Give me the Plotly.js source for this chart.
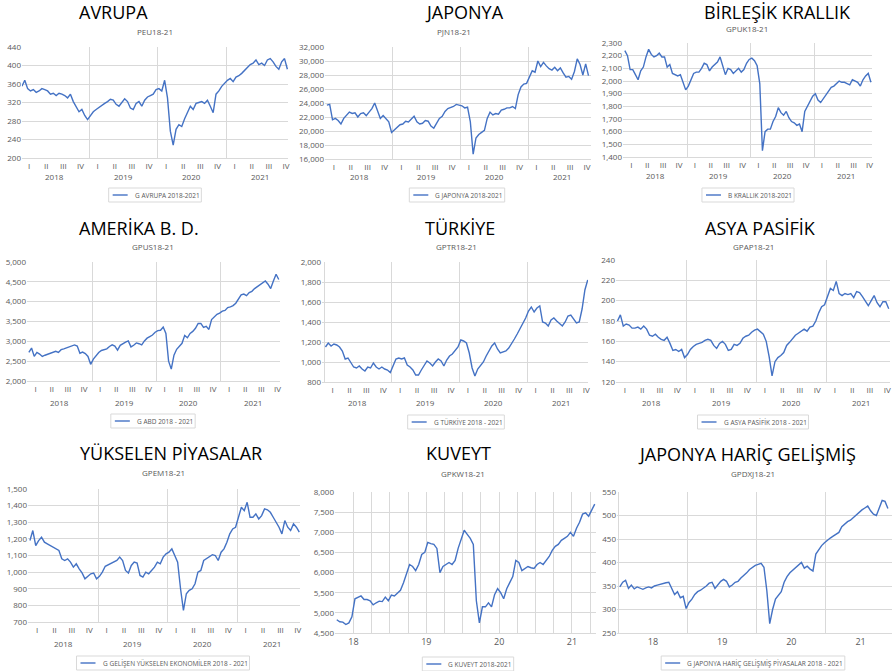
<!DOCTYPE html>
<html><head><meta charset="utf-8">
<script src="https://cdn.plot.ly/plotly-3.0.1.min.js"></script>
<style>html,body{margin:0;padding:0;background:#fff}#chart{width:895px;height:671px}</style>
</head><body><div id="chart"></div>
<script>
// ---------- DATA ----------
const titles = ['AVRUPA','JAPONYA','BİRLEŞİK KRALLIK','AMERİKA B. D.','TÜRKİYE','ASYA PASİFİK','YÜKSELEN PİYASALAR','KUVEYT','JAPONYA HARİÇ GELİŞMİŞ'];
const subtitles = ['PEU18-21','PJN18-21','GPUK18-21','GPUS18-21','GPTR18-21','GPAP18-21','GPEM18-21','GPKW18-21','GPDXJ18-21'];
const legendNames = ['G AVRUPA 2018-2021','G JAPONYA 2018-2021','B KRALLIK 2018-2021','G ABD 2018 - 2021','G TÜRKİYE 2018 - 2021','G ASYA PASİFİK 2018 - 2021','G GELİŞEN YÜKSELEN EKONOMİLER 2018 - 2021','G KUVEYT 2018-2021','G JAPONYA HARİÇ GELİŞMİŞ PİYASALAR 2018 - 2021'];
const quarterLabels = ['I','II','III','IV'];
const years = [2018, 2019, 2020, 2021];
const yearLabels = ['2018','2019','2020','2021'];
const shortYearLabels = ['18','19','20','21'];
// semi-monthly observations; series start dates (decimal years)
const seriesStart = [2018, 2018, 2018, 2018, 2018, 2018, 2018, 2018.25, 2018];

const avrupa = [355,368,350,345,348,342,345,350,348,345,338,340,335,340,338,335,330,338,322,310,300,305,292,283,
 292,300,305,310,315,318,322,327,325,316,312,320,328,322,308,305,318,322,312,325,332,335,338,348,
 350,345,368,330,258,228,262,272,268,285,300,312,305,318,320,322,318,325,312,298,338,345,355,362,
 368,372,365,375,378,383,390,395,402,405,412,402,405,400,412,415,408,398,392,408,415,392];
const japonya = [23700,23800,21600,21800,21500,21000,21800,22300,22700,22500,22600,22000,22500,22600,22200,22700,23200,24000,23000,21800,22200,21800,21300,19800,
 20200,20600,20900,21000,21400,21300,21700,22100,21300,21000,21100,21500,21400,20700,20400,21200,21800,22100,22800,23200,23300,23500,23800,23700,
 23600,23300,23400,21300,16700,19000,19500,19800,20100,21800,22700,22300,22500,22400,23000,23100,23300,23300,23500,23200,25200,26300,26700,26800,
 27800,28600,28400,30000,29200,29800,29300,28900,28700,29100,28600,29000,28300,27700,27800,27400,28500,30300,29500,28000,29600,27900];
const birlesikKrallik = [2240,2200,2090,2090,2050,2010,2080,2110,2190,2250,2210,2190,2200,2220,2190,2190,2110,2130,2060,2050,2040,2050,1980,1930,
 1960,2010,2060,2070,2070,2100,2140,2130,2080,2110,2130,2150,2190,2120,2050,2100,2090,2060,2080,2100,2070,2090,2140,2170,
 2180,2160,2120,1980,1450,1600,1620,1620,1680,1720,1790,1750,1730,1760,1710,1680,1670,1650,1660,1600,1760,1800,1830,1880,
 1900,1850,1830,1860,1880,1910,1950,1960,1980,2000,1990,1990,1980,1970,2010,2000,1990,1960,2010,2040,2060,1990];
const amerika = [2720,2830,2620,2720,2680,2620,2650,2680,2710,2730,2750,2720,2790,2810,2840,2860,2890,2910,2880,2700,2730,2690,2620,2420,
 2550,2650,2720,2770,2790,2810,2870,2910,2880,2780,2900,2950,2980,3010,2860,2900,2960,2940,2910,3010,3080,3120,3160,3230,
 3270,3280,3360,3200,2500,2300,2650,2800,2870,2950,3150,3090,3200,3250,3330,3450,3450,3350,3380,3300,3550,3620,3680,3710,
 3760,3780,3850,3870,3900,3960,4080,4170,4190,4150,4230,4260,4330,4380,4420,4460,4520,4440,4330,4520,4690,4560];
const turkiye = [1150,1190,1160,1180,1170,1150,1110,1030,1040,990,950,940,960,930,910,950,940,990,950,930,950,930,920,895,
 960,1030,1040,1030,1040,970,950,920,870,870,920,960,1010,990,960,1000,1030,1010,960,1020,1060,1080,1110,1150,
 1220,1210,1190,1090,940,860,930,970,1000,1060,1110,1160,1190,1130,1090,1100,1110,1140,1180,1230,1280,1330,1380,1440,
 1510,1550,1500,1540,1560,1400,1390,1360,1420,1440,1410,1380,1360,1400,1460,1470,1430,1390,1400,1530,1720,1820];
const asyaPasifik = [180,186,175,177,176,173,173,174,172,175,172,166,165,167,164,162,161,164,158,151,152,150,152,144,
 147,152,155,157,158,159,161,162,161,156,153,158,160,157,151,152,157,156,158,163,165,166,169,171,
 172,169,167,160,145,126,140,144,146,149,156,159,163,166,168,170,172,170,174,175,180,188,194,196,
 204,212,210,219,207,205,207,206,207,203,209,208,204,199,195,200,205,198,194,199,199,192];
const yukselen = [1190,1250,1160,1190,1210,1180,1170,1160,1155,1145,1130,1080,1070,1080,1060,1030,1050,1020,995,960,975,990,995,960,
 975,1000,1035,1045,1050,1060,1070,1090,1070,1010,995,1040,1060,1055,980,970,1000,990,1010,1030,1060,1050,1090,1110,
 1120,1140,1100,1060,900,770,870,890,900,930,1000,1010,1070,1080,1095,1105,1100,1070,1120,1140,1180,1230,1260,1270,
 1330,1390,1370,1420,1330,1330,1350,1320,1340,1380,1375,1360,1330,1300,1270,1230,1310,1270,1250,1290,1270,1240];
const kuveyt = [4830,4780,4770,4710,4750,4900,5350,5380,5420,5330,5330,5300,5200,5250,5290,5280,5390,5300,5440,5420,
 5480,5560,5750,6000,6200,6150,6050,6200,6450,6500,6750,6720,6700,6600,6000,6150,6200,6250,6200,6300,
 6600,6850,7050,6950,6850,6700,5300,4750,5150,5150,5250,5150,5450,5600,5500,5350,5600,5750,5900,6300,
 6250,6050,6100,6150,6120,6100,6200,6250,6200,6300,6400,6550,6650,6700,6800,6850,6900,7000,6900,7100,
 7250,7450,7480,7400,7550,7700];
const japonyaHaric = [348,358,362,345,352,344,348,345,343,346,348,346,350,352,354,356,357,358,346,332,338,325,328,302,
 315,322,332,338,341,345,350,356,358,345,353,360,364,360,348,352,358,360,367,372,378,385,390,394,
 396,398,390,340,270,300,322,330,338,358,370,378,384,390,395,400,388,392,386,382,418,428,436,442,
 448,452,456,460,464,476,482,487,490,496,502,506,512,516,520,510,503,500,518,532,530,515];

const series = [avrupa, japonya, birlesikKrallik, amerika, turkiye, asyaPasifik, yukselen, kuveyt, japonyaHaric];

// ---------- PLACEMENT (pixels) ----------
const W = 895, H = 671;
const P = [
 {l:22, r:288, t:47, b:158, xr:[2018.022,2021.905], yr:[200,440], dt:40, tx:113, ty:12, sx:155, sy:32, lx:155, ly:195, yy:176, mode:'q'},
 {l:325, r:591, t:47, b:159, xr:[2017.993,2021.933], yr:[16000,32000], dt:2000, tx:464, ty:12, sx:454, sy:32, lx:457, ly:195, yy:176, mode:'q'},
 {l:623, r:872, t:43, b:157, xr:[2017.992,2021.913], yr:[1400,2300], dt:100, tx:777, ty:12, sx:747, sy:29, lx:748, ly:195, yy:175, mode:'q'},
 {l:27, r:280, t:262, b:381, xr:[2017.992,2021.915], yr:[2000,5000], dt:500, tx:139, ty:228, sx:153, sy:247, lx:153, ly:421, yy:402, mode:'q'},
 {l:322, r:588, t:262, b:382, xr:[2017.97,2021.9], yr:[800,2000], dt:200, tx:460, ty:228, sx:456, sy:247, lx:456, ly:422, yy:402, mode:'q'},
 {l:616, r:890, t:260, b:382, xr:[2018,2021.914], yr:[120,240], dt:20, tx:760, ty:228, sx:753, sy:246, lx:753, ly:422, yy:402, mode:'q'},
 {l:28, r:300, t:489, b:622, xr:[2017.993,2021.906], yr:[700,1500], dt:100, tx:171, ty:453, sx:163, sy:472, lx:163, ly:663, yy:643, mode:'q'},
 {l:335, r:596, t:492, b:633, xr:[2018.247,2021.83], yr:[4500,8000], dt:500, tx:458, ty:453, sx:463, sy:473, lx:468, ly:664, mode:'y', minorDt:0.25},
 {l:617, r:892, t:492, b:633, xr:[2017.98,2021.955], yr:[250,550], dt:50, tx:747, ty:454, sx:753, sy:473, lx:753, ly:663, mode:'y', minorDt:1}
];

const FONT = 'Open Sans, Noto Sans, sans-serif';
const BLUE = '#4472c4', GRID = '#d9d9d9', TXT = '#595959';
const LEG_SIZE = 6.5;
const ctx = document.createElement('canvas').getContext('2d');
function textWidth(s, size) { ctx.font = size + 'px "Open Sans"'; return ctx.measureText(s).width; }

const data = [], annotations = [], shapes = [];
const layout = {
  width: W, height: H, margin: {l:0, r:0, t:0, b:0}, paper_bgcolor: '#fff', plot_bgcolor: '#fff',
  font: {family: FONT, color: TXT}, showlegend: false
};

series.forEach((vals, k) => {
  const p = P[k], n = k ? String(k + 1) : '';
  data.push({
    type: 'scatter', mode: 'lines', name: legendNames[k],
    x: vals.map((v, i) => seriesStart[k] + (i + 0.5) / 24), y: vals,
    line: {color: BLUE, width: 1.4}, xaxis: 'x' + n, yaxis: 'y' + n, hoverinfo: 'skip'
  });
  const xa = {
    domain: [p.l / W, p.r / W], range: p.xr, anchor: 'y' + n,
    showline: true, linecolor: GRID, zeroline: false, ticks: '', fixedrange: true,
    tickfont: {size: 8, color: TXT, family: FONT}, tickmode: 'array'
  };
  if (p.mode === 'q') {
    const tv = [], tt = [];
    years.forEach(y => quarterLabels.forEach((q, j) => { tv.push(y + (j + 0.5) / 4); tt.push(q); }));
    xa.tickvals = tv; xa.ticktext = tt; xa.showgrid = false;
    xa.minor = {tickmode: 'linear', tick0: 2018, dtick: 1, showgrid: true, gridcolor: GRID, gridwidth: 1, ticks: ''};
    years.forEach((y, j) => annotations.push({
      xref: 'x' + n, yref: 'paper', x: y + 0.5, y: 1 - p.yy / H, text: yearLabels[j],
      showarrow: false, xanchor: 'center', yanchor: 'middle', font: {size: 8, color: TXT, family: FONT}
    }));
  } else {
    xa.tickvals = years.map(y => y + 0.5); xa.ticktext = shortYearLabels;
    xa.tickfont = {size: 9, color: TXT, family: FONT};
    xa.showgrid = p.minorDt < 1; xa.gridcolor = GRID;
    xa.minor = {tickmode: 'linear', tick0: 2018, dtick: p.minorDt, showgrid: true, gridcolor: GRID, gridwidth: 1, ticks: ''};
  }
  layout['xaxis' + n] = xa;
  layout['yaxis' + n] = {
    domain: [1 - p.b / H, 1 - p.t / H], range: p.yr, anchor: 'x' + n,
    tick0: p.yr[0], dtick: p.dt, tickformat: ',', showgrid: true, gridcolor: GRID, gridwidth: 1,
    zeroline: false, showline: false, ticks: '', fixedrange: true,
    tickfont: {size: 8, color: TXT, family: FONT}
  };
  // legend box: border, line sample, label
  const tw = textWidth(legendNames[k], LEG_SIZE);
  const boxW = 4 + 15 + 5 + tw + 4;
  const x0 = p.lx - boxW / 2;
  shapes.push({type: 'rect', xref: 'paper', yref: 'paper', x0: x0 / W, x1: (x0 + boxW) / W,
    y0: 1 - (p.ly + 7) / H, y1: 1 - (p.ly - 7) / H, line: {color: GRID, width: 1}, fillcolor: 'rgba(0,0,0,0)'});
  shapes.push({type: 'line', xref: 'paper', yref: 'paper', x0: (x0 + 4) / W, x1: (x0 + 19) / W,
    y0: 1 - p.ly / H, y1: 1 - p.ly / H, line: {color: BLUE, width: 1.4}});
  annotations.push({
    xref: 'paper', yref: 'paper', x: (x0 + 24) / W, y: 1 - p.ly / H, text: legendNames[k], showarrow: false,
    xanchor: 'left', yanchor: 'middle', font: {size: LEG_SIZE, color: TXT, family: FONT}
  });
  annotations.push({
    xref: 'paper', yref: 'paper', x: p.tx / W, y: 1 - p.ty / H, text: titles[k], showarrow: false,
    xanchor: 'center', yanchor: 'middle', font: {size: 18, color: '#000', family: FONT}
  });
  annotations.push({
    xref: 'paper', yref: 'paper', x: p.sx / W, y: 1 - p.sy / H, text: subtitles[k], showarrow: false,
    xanchor: 'center', yanchor: 'middle', font: {size: 8, color: TXT, family: FONT}
  });
});
layout.annotations = annotations;
layout.shapes = shapes;

Plotly.newPlot('chart', data, layout, {displayModeBar: false, staticPlot: true});
</script>
</body></html>
